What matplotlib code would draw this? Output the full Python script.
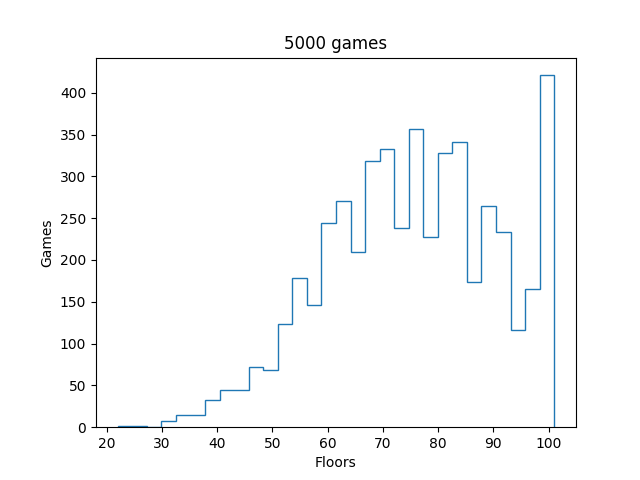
import numpy as np
import matplotlib
matplotlib.use("Agg")
import matplotlib.pyplot as plt

# floors range and per-bin game counts (30 bins)
floor_min = 22
floor_max = 101
counts = [
    1, 2, 0, 7, 14, 14, 32, 44, 44, 72,
    69, 124, 178, 146, 244, 271, 209, 318, 333, 238,
    357, 227, 328, 341, 174, 264, 234, 116, 165, 421,
]

edges = np.linspace(floor_min, floor_max, len(counts) + 1)
centers = (edges[:-1] + edges[1:]) / 2

plt.figure(figsize=(6.4, 4.8), dpi=100)
plt.subplots_adjust(left=0.15)

plt.hist(
    centers,
    bins=edges,
    weights=counts,
    histtype="step"
)

plt.xlabel("Floors")
plt.ylabel("Games")
plt.title("5000 games")

plt.savefig("out.png")
plt.close()
